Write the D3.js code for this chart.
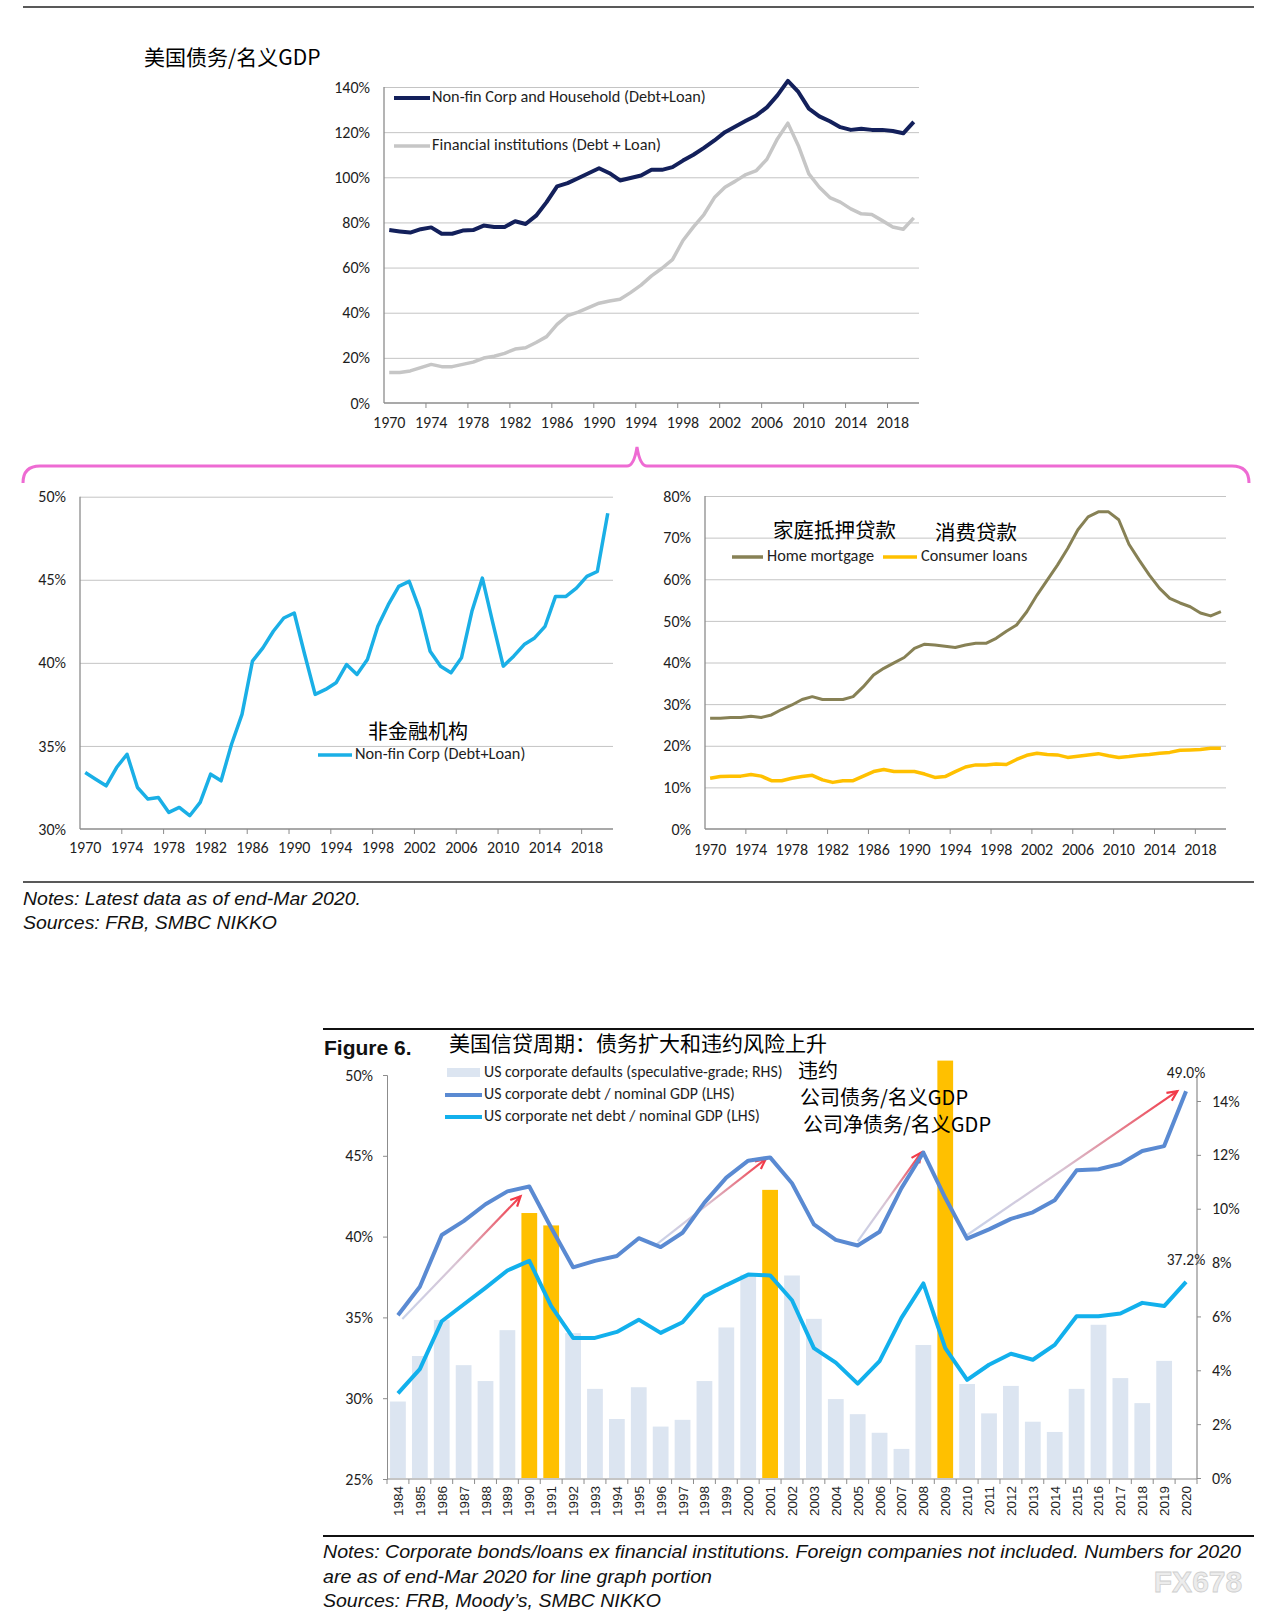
<!DOCTYPE html>
<html>
<head>
<meta charset="utf-8">
<script src="https://cdn.jsdelivr.net/npm/d3@7"></script>
<style>
  body { margin: 0; background: #fff; }
  svg { display: block; }
  .lat { font-family: Carlito, Lato, "Noto Sans", sans-serif; fill: #1e1e1e; }
  .cjk { font-family: "Noto Sans CJK SC", sans-serif; fill: #000; }
  .note { font-family: "Liberation Sans", Arial, sans-serif; font-style: italic; fill: #111; }
</style>
</head>
<body>
<div id="chart"></div>
<script>
// ---- Data: debt / nominal GDP panels (annual, 1970-2020) ----
var years = d3.range(1970, 2021);
var nonFinHousehold = [76.6, 76.0, 75.5, 77.0, 77.8, 75.0, 75.0, 76.4, 76.6, 78.6,
  78.0, 78.0, 80.5, 79.3, 83.0, 89.0, 96.0, 97.4, 99.6, 101.8,
  104.0, 101.8, 98.6, 99.7, 100.8, 103.3, 103.3, 104.5, 107.4, 110.0,
  113.0, 116.3, 120.0, 122.5, 125.0, 127.4, 131.0, 136.3, 142.7, 137.8,
  130.4, 127.0, 124.8, 122.2, 121.0, 121.5, 121.0, 121.0, 120.5, 119.5, 124.5];
var financialInst = [13.5, 13.5, 14.2, 15.7, 17.1, 16.1, 16.1, 17.1, 18.1, 19.9,
  20.7, 22.0, 23.9, 24.5, 26.8, 29.4, 34.8, 38.7, 40.3, 42.3,
  44.2, 45.2, 46.0, 48.9, 52.2, 56.3, 59.7, 63.5, 72.0, 78.0,
  83.5, 91.0, 95.6, 98.3, 101.2, 103.0, 108.0, 117.0, 124.0, 114.0,
  101.5, 95.6, 91.0, 89.0, 86.0, 83.8, 83.5, 80.8, 78.0, 77.0, 82.0];
var nonFinCorp = [33.4, 33.0, 32.6, 33.7, 34.5, 32.5, 31.8, 31.9, 31.0, 31.3,
  30.8, 31.6, 33.3, 32.9, 35.1, 36.9, 40.1, 40.9, 41.9, 42.7,
  43.0, 40.5, 38.1, 38.4, 38.8, 39.9, 39.3, 40.2, 42.2, 43.5,
  44.6, 44.9, 43.2, 40.7, 39.8, 39.4, 40.3, 43.1, 45.1, 42.4,
  39.8, 40.4, 41.1, 41.5, 42.2, 44.0, 44.0, 44.5, 45.2, 45.5, 49.0];
var homeMortgage = [26.6, 26.6, 26.8, 26.8, 27.1, 26.8, 27.4, 28.7, 29.8, 31.1,
  31.8, 31.1, 31.1, 31.1, 31.8, 34.2, 37.0, 38.6, 39.9, 41.2,
  43.4, 44.4, 44.2, 43.9, 43.6, 44.2, 44.6, 44.6, 45.8, 47.5,
  49.0, 52.2, 56.2, 59.8, 63.4, 67.4, 71.9, 75.0, 76.2, 76.2,
  74.3, 68.4, 64.6, 61.0, 57.8, 55.4, 54.3, 53.4, 51.9, 51.2, 52.2];
var consumerLoans = [12.2, 12.6, 12.7, 12.7, 13.1, 12.7, 11.6, 11.6, 12.2, 12.6,
  12.9, 11.8, 11.2, 11.6, 11.6, 12.7, 13.8, 14.3, 13.8, 13.8,
  13.8, 13.2, 12.4, 12.6, 13.8, 14.9, 15.4, 15.4, 15.6, 15.5,
  16.7, 17.7, 18.2, 17.9, 17.8, 17.2, 17.5, 17.8, 18.1, 17.6,
  17.2, 17.4, 17.7, 17.9, 18.2, 18.4, 18.9, 19.0, 19.1, 19.4, 19.4];

// ---- Data: Figure 6 (1984-2020) ----
var figYears = d3.range(1984, 2021);
var defaultRate = [2.84, 4.53, 5.87, 4.19, 3.6, 5.49, 9.84, 9.38, 5.38, 3.31,
  2.19, 3.37, 1.91, 2.16, 3.6, 5.59, 7.55, 10.7, 7.52, 5.91,
  2.93, 2.37, 1.68, 1.08, 4.94, 15.5, 3.49, 2.4, 3.42, 2.09,
  1.71, 3.31, 5.69, 3.71, 2.78, 4.35, null];
var corpDebt = [35.13, 36.9, 40.1, 40.96, 42.0, 42.8, 43.1, 40.55, 38.1, 38.5,
  38.8, 39.9, 39.35, 40.24, 42.1, 43.65, 44.7, 44.9, 43.3, 40.76,
  39.8, 39.45, 40.3, 43.0, 45.2, 42.4, 39.87, 40.45, 41.1, 41.5,
  42.25, 44.1, 44.17, 44.5, 45.3, 45.6, 49.0];
var corpNetDebt = [30.3, 31.8, 34.76, 35.8, 36.83, 37.9, 38.5, 35.7, 33.73, 33.73,
  34.1, 34.86, 34.04, 34.7, 36.3, 37.0, 37.65, 37.6, 36.06, 33.1,
  32.2, 30.9, 32.3, 34.97, 37.1, 33.1, 31.14, 32.07, 32.75, 32.38,
  33.3, 35.07, 35.07, 35.24, 35.9, 35.7, 37.2];
var highlightYears = [1990, 1991, 2001, 2009];
// Arrow annotations: [fromYear, fromValue, toYear, toValue] on the LHS scale
var trendArrows = [[1984.2, 34.9, 1989.6, 42.5], [1995.8, 39.5, 2000.8, 44.8],
  [2005.0, 39.7, 2007.9, 45.2], [2010.0, 40.1, 2019.6, 49.0]];

var W = 1280, H = 1621;
var tickFont = 16, legendFont = 16.3;
var svg = d3.select("#chart").append("svg")
  .attr("width", W).attr("height", H);
svg.append("rect").attr("width", W).attr("height", H).attr("fill", "#fff");
var defs = svg.append("defs");

// Excel-style line panel with band x axis and gridlines
function linePanel(cfg) {
  var g = svg.append("g");
  var x = d3.scaleBand().domain(years).range([cfg.x0, cfg.x1]);
  var y = d3.scaleLinear().domain(cfg.domain).range([cfg.yb, cfg.yt]);
  var ticks = d3.range(cfg.domain[0], cfg.domain[1] + 0.001, cfg.step);

  // gridlines
  g.append("g")
    .attr("transform", `translate(${cfg.x0},0)`)
    .call(d3.axisLeft(y).tickValues(ticks.slice(1)).tickSize(-(cfg.x1 - cfg.x0)).tickFormat(""))
    .call(function(a) {
      a.select(".domain").remove();
      a.selectAll("line").attr("stroke", "#c4c4c4");
    });

  // y labels
  g.append("g")
    .attr("transform", `translate(${cfg.x0},0)`)
    .call(d3.axisLeft(y).tickValues(ticks).tickSize(0).tickPadding(14)
      .tickFormat(function(d) { return d + "%"; }))
    .call(function(a) {
      a.select(".domain").remove();
      a.selectAll("text").attr("font-size", tickFont).attr("fill", "#1e1e1e")
        .style("font-family", "Carlito, Lato, sans-serif");
    });

  // axes lines
  g.append("line").attr("x1", cfg.x0).attr("x2", cfg.x0)
    .attr("y1", cfg.yt).attr("y2", cfg.yb).attr("stroke", "#8c8c8c").attr("stroke-width", 1.3);
  g.append("line").attr("x1", cfg.x0).attr("x2", cfg.x1)
    .attr("y1", cfg.yb).attr("y2", cfg.yb).attr("stroke", "#8c8c8c").attr("stroke-width", 1.3);

  // x tick marks at every 4th category boundary
  var bounds = years.filter(function(d, i) { return i % 4 === 0 && i > 0; });
  g.selectAll(".xt").data(bounds).enter().append("line")
    .attr("x1", function(d) { return x(d); })
    .attr("x2", function(d) { return x(d); })
    .attr("y1", cfg.yb).attr("y2", cfg.yb + 5)
    .attr("stroke", "#8c8c8c");

  // x labels
  g.append("g")
    .attr("transform", `translate(0,${cfg.yb})`)
    .call(d3.axisBottom(x).tickValues(years.filter(function(d, i) { return i % 4 === 0 && d <= 2018; }))
      .tickSize(0).tickPadding(cfg.xpad))
    .call(function(a) {
      a.select(".domain").remove();
      a.selectAll("text").attr("font-size", tickFont).attr("fill", "#1e1e1e")
        .style("font-family", "Carlito, Lato, sans-serif");
    });

  // series
  cfg.series.forEach(function(s) {
    var line = d3.line()
      .x(function(d, i) { return x(years[i]) + x.bandwidth() / 2; })
      .y(function(d) { return y(d); });
    g.append("path").datum(s.values)
      .attr("d", line)
      .attr("fill", "none")
      .attr("stroke", s.color)
      .attr("stroke-width", s.width)
      .attr("stroke-linejoin", "round");
  });
  return g;
}

// ---- Top rule and title ----
svg.append("line").attr("x1", 23).attr("x2", 1254).attr("y1", 7).attr("y2", 7)
  .attr("stroke", "#222").attr("stroke-width", 1.5);
svg.append("text").attr("class", "cjk").attr("x", 144).attr("y", 59)
  .attr("dominant-baseline", "middle").attr("font-size", 21).text("美国债务/名义GDP");

// ---- Top panel ----
linePanel({
  x0: 384, x1: 919, yb: 403, yt: 87, domain: [0, 140], step: 20, xpad: 14,
  series: [
    { values: financialInst, color: "#c6c6c6", width: 3.5 },
    { values: nonFinHousehold, color: "#13205b", width: 4 }
  ]
});
svg.append("line").attr("x1", 394).attr("x2", 430).attr("y1", 98).attr("y2", 98)
  .attr("stroke", "#13205b").attr("stroke-width", 4);
svg.append("text").attr("class", "lat").attr("x", 432).attr("y", 98)
  .attr("dominant-baseline", "middle").attr("font-size", legendFont)
  .text("Non-fin Corp and Household (Debt+Loan)");
svg.append("line").attr("x1", 394).attr("x2", 430).attr("y1", 146).attr("y2", 146)
  .attr("stroke", "#c6c6c6").attr("stroke-width", 3.5);
svg.append("text").attr("class", "lat").attr("x", 432).attr("y", 146)
  .attr("dominant-baseline", "middle").attr("font-size", legendFont)
  .text("Financial institutions (Debt + Loan)");

// ---- Pink bracket ----
svg.append("path")
  .attr("d", "M23,483 Q23,466 40,466 L627,466 Q634,466 637,447 Q640,466 647,466 L1232,466 Q1249,466 1249,483")
  .attr("fill", "none").attr("stroke", "#ee6bd3").attr("stroke-width", 3);

// ---- Bottom-left panel ----
linePanel({
  x0: 80, x1: 613, yb: 829, yt: 496.7, domain: [30, 50], step: 5, xpad: 13,
  series: [{ values: nonFinCorp, color: "#1aafe6", width: 3.5 }]
});
svg.append("text").attr("class", "cjk").attr("x", 368).attr("y", 734)
  .attr("dominant-baseline", "middle").attr("font-size", 20).text("非金融机构");
svg.append("line").attr("x1", 318).attr("x2", 352).attr("y1", 755).attr("y2", 755)
  .attr("stroke", "#1aafe6").attr("stroke-width", 3.5);
svg.append("text").attr("class", "lat").attr("x", 355).attr("y", 755)
  .attr("dominant-baseline", "middle").attr("font-size", legendFont).text("Non-fin Corp (Debt+Loan)");

// ---- Bottom-right panel ----
linePanel({
  x0: 705, x1: 1226, yb: 829, yt: 496, domain: [0, 80], step: 10, xpad: 15,
  series: [
    { values: homeMortgage, color: "#878155", width: 3 },
    { values: consumerLoans, color: "#ffc000", width: 3.5 }
  ]
});
svg.append("text").attr("class", "cjk").attr("x", 773).attr("y", 532)
  .attr("dominant-baseline", "middle").attr("font-size", 20.5).text("家庭抵押贷款");
svg.append("text").attr("class", "cjk").attr("x", 935).attr("y", 534)
  .attr("dominant-baseline", "middle").attr("font-size", 20.5).text("消费贷款");
svg.append("line").attr("x1", 732).attr("x2", 763).attr("y1", 557).attr("y2", 557)
  .attr("stroke", "#878155").attr("stroke-width", 3.5);
svg.append("text").attr("class", "lat").attr("x", 767).attr("y", 557)
  .attr("dominant-baseline", "middle").attr("font-size", legendFont).text("Home mortgage");
svg.append("line").attr("x1", 883).attr("x2", 917).attr("y1", 557).attr("y2", 557)
  .attr("stroke", "#ffc000").attr("stroke-width", 3.5);
svg.append("text").attr("class", "lat").attr("x", 921).attr("y", 557)
  .attr("dominant-baseline", "middle").attr("font-size", legendFont).text("Consumer loans");

// ---- Notes (upper) ----
svg.append("line").attr("x1", 23).attr("x2", 1254).attr("y1", 882).attr("y2", 882)
  .attr("stroke", "#222").attr("stroke-width", 1.5);
svg.append("text").attr("class", "note").attr("x", 23).attr("y", 905)
  .attr("font-size", 19).attr("textLength", 338).attr("lengthAdjust", "spacingAndGlyphs")
  .text("Notes: Latest data as of end-Mar 2020.");
svg.append("text").attr("class", "note").attr("x", 23).attr("y", 929)
  .attr("font-size", 19).attr("textLength", 254).attr("lengthAdjust", "spacingAndGlyphs")
  .text("Sources: FRB, SMBC NIKKO");

// ---- Figure 6 ----
svg.append("line").attr("x1", 323).attr("x2", 1254).attr("y1", 1029).attr("y2", 1029)
  .attr("stroke", "#111").attr("stroke-width", 2);
svg.append("text").attr("x", 324).attr("y", 1055)
  .style("font-family", "'Liberation Sans', Arial, sans-serif").attr("font-weight", "bold")
  .attr("font-size", 21).attr("fill", "#111").text("Figure 6.");
svg.append("text").attr("class", "cjk").attr("x", 449).attr("y", 1045)
  .attr("dominant-baseline", "middle").attr("font-size", 21)
  .text("美国信贷周期：债务扩大和违约风险上升");

var fx0 = 387, fx1 = 1197, fyb = 1479, fyt = 1075;
var fx = d3.scaleBand().domain(figYears).range([fx0, fx1]);
var fxLin = d3.scaleLinear().domain([1983.5, 2020.5]).range([fx0, fx1]);
var fyL = d3.scaleLinear().domain([25, 50]).range([fyb, fyt]);
var fyR = d3.scaleLinear().domain([0, 14]).range([1478, 1101]);
var fig = svg.append("g");

// default-rate bars
var barW = fx.bandwidth() * 0.72;
fig.selectAll(".bar").data(figYears.filter(function(d, i) { return defaultRate[i] != null; }))
  .enter().append("rect")
  .attr("x", function(d) { return fx(d) + (fx.bandwidth() - barW) / 2; })
  .attr("y", function(d) { return fyR(defaultRate[figYears.indexOf(d)]); })
  .attr("width", barW)
  .attr("height", function(d) { return fyR(0) - fyR(defaultRate[figYears.indexOf(d)]); })
  .attr("fill", function(d) { return highlightYears.indexOf(d) >= 0 ? "#ffc000" : "#dce5f1"; });

// trend arrows (fade from pale blue to red)
trendArrows.forEach(function(a, i) {
  var x1 = fxLin(a[0]), y1 = fyL(a[1]), x2 = fxLin(a[2]), y2 = fyL(a[3]);
  var gid = "arrowGrad" + i;
  var grad = defs.append("linearGradient").attr("id", gid)
    .attr("gradientUnits", "userSpaceOnUse")
    .attr("x1", x1).attr("y1", y1).attr("x2", x2).attr("y2", y2);
  grad.append("stop").attr("offset", "0%").attr("stop-color", "#c9d3ea");
  grad.append("stop").attr("offset", "45%").attr("stop-color", "#d8c4d4");
  grad.append("stop").attr("offset", "100%").attr("stop-color", "#f23a48");
  fig.append("line").attr("x1", x1).attr("y1", y1).attr("x2", x2).attr("y2", y2)
    .attr("stroke", "url(#" + gid + ")").attr("stroke-width", 2.2);
  var ang = Math.atan2(y2 - y1, x2 - x1);
  var hl = 11, sp = 0.45;
  fig.append("path")
    .attr("d", "M" + (x2 - hl * Math.cos(ang - sp)) + "," + (y2 - hl * Math.sin(ang - sp)) +
      "L" + x2 + "," + y2 +
      "L" + (x2 - hl * Math.cos(ang + sp)) + "," + (y2 - hl * Math.sin(ang + sp)))
    .attr("fill", "none").attr("stroke", "#f23a48").attr("stroke-width", 2.2)
    .attr("stroke-linejoin", "miter");
});

// debt lines
var figLine = d3.line()
  .x(function(d, i) { return fx(figYears[i]) + fx.bandwidth() / 2; })
  .y(function(d) { return fyL(d); });
fig.append("path").datum(corpDebt).attr("d", figLine)
  .attr("fill", "none").attr("stroke", "#5a8ad2").attr("stroke-width", 4)
  .attr("stroke-linejoin", "round");
fig.append("path").datum(corpNetDebt).attr("d", figLine)
  .attr("fill", "none").attr("stroke", "#12b0ec").attr("stroke-width", 4)
  .attr("stroke-linejoin", "round");

// axes
fig.append("g")
  .attr("transform", `translate(${fx0},0)`)
  .call(d3.axisLeft(fyL).tickValues(d3.range(25, 51, 5)).tickSize(4).tickPadding(10)
    .tickFormat(function(d) { return d + "%"; }))
  .call(function(a) {
    a.select(".domain").attr("stroke", "#8c8c8c");
    a.selectAll("line").attr("stroke", "#8c8c8c");
    a.selectAll("text").attr("font-size", tickFont).attr("fill", "#1e1e1e")
      .style("font-family", "Carlito, Lato, sans-serif");
  });
fig.append("g")
  .attr("transform", `translate(${fx1},0)`)
  .call(d3.axisRight(fyR).tickValues(d3.range(0, 15, 2)).tickSize(4).tickPadding(11)
    .tickFormat(function(d) { return d + "%"; }))
  .call(function(a) {
    a.select(".domain").remove();
    a.selectAll("line").attr("stroke", "#8c8c8c");
    a.selectAll("text").attr("font-size", tickFont).attr("fill", "#1e1e1e")
      .style("font-family", "Carlito, Lato, sans-serif");
  });
fig.append("line").attr("x1", fx1).attr("x2", fx1).attr("y1", fyt).attr("y2", fyb)
  .attr("stroke", "#8c8c8c").attr("stroke-width", 1.2);
fig.append("line").attr("x1", fx0).attr("x2", fx1).attr("y1", fyb).attr("y2", fyb)
  .attr("stroke", "#8c8c8c").attr("stroke-width", 1.2);
fig.selectAll(".fxt").data(figYears.concat([2021])).enter().append("line")
  .attr("x1", function(d) { return d === 2021 ? fx1 : fx(d); })
  .attr("x2", function(d) { return d === 2021 ? fx1 : fx(d); })
  .attr("y1", fyb).attr("y2", fyb + 5).attr("stroke", "#8c8c8c");
fig.selectAll(".fxl").data(figYears).enter().append("text")
  .attr("transform", function(d) {
    return `translate(${fx(d) + fx.bandwidth() / 2 + 5},1486) rotate(-90)`;
  })
  .attr("text-anchor", "end")
  .style("font-family", "'Liberation Sans', Arial, sans-serif")
  .attr("font-size", 13.5).attr("fill", "#1e1e1e")
  .text(function(d) { return d; });

// end-value labels
fig.append("text").attr("class", "lat").attr("x", 1186).attr("y", 1074)
  .attr("text-anchor", "middle").attr("dominant-baseline", "middle").attr("font-size", 15.5)
  .text(d3.format(".1f")(corpDebt[corpDebt.length - 1]) + "%");
fig.append("text").attr("class", "lat").attr("x", 1186).attr("y", 1261)
  .attr("text-anchor", "middle").attr("dominant-baseline", "middle").attr("font-size", 15.5)
  .text(d3.format(".1f")(corpNetDebt[corpNetDebt.length - 1]) + "%");

// legend
fig.append("rect").attr("x", 447).attr("y", 1068).attr("width", 33).attr("height", 9)
  .attr("fill", "#dce5f1");
fig.append("text").attr("class", "lat").attr("x", 484).attr("y", 1073)
  .attr("dominant-baseline", "middle").attr("font-size", 15.8)
  .text("US corporate defaults (speculative-grade; RHS)");
fig.append("line").attr("x1", 445).attr("x2", 482).attr("y1", 1095).attr("y2", 1095)
  .attr("stroke", "#5a8ad2").attr("stroke-width", 4);
fig.append("text").attr("class", "lat").attr("x", 484).attr("y", 1095)
  .attr("dominant-baseline", "middle").attr("font-size", 15.8)
  .text("US corporate debt / nominal GDP (LHS)");
fig.append("line").attr("x1", 445).attr("x2", 482).attr("y1", 1117).attr("y2", 1117)
  .attr("stroke", "#12b0ec").attr("stroke-width", 4);
fig.append("text").attr("class", "lat").attr("x", 484).attr("y", 1117)
  .attr("dominant-baseline", "middle").attr("font-size", 15.8)
  .text("US corporate net debt / nominal GDP (LHS)");

// Chinese annotations
fig.append("text").attr("class", "cjk").attr("x", 798).attr("y", 1073)
  .attr("dominant-baseline", "middle").attr("font-size", 20).text("违约");
fig.append("text").attr("class", "cjk").attr("x", 800).attr("y", 1100)
  .attr("dominant-baseline", "middle").attr("font-size", 20).text("公司债务/名义GDP");
fig.append("text").attr("class", "cjk").attr("x", 803).attr("y", 1127)
  .attr("dominant-baseline", "middle").attr("font-size", 20).text("公司净债务/名义GDP");

// ---- Notes (lower) ----
svg.append("line").attr("x1", 323).attr("x2", 1254).attr("y1", 1536).attr("y2", 1536)
  .attr("stroke", "#111").attr("stroke-width", 2);
svg.append("text").attr("class", "note").attr("x", 323).attr("y", 1558)
  .attr("font-size", 19).attr("textLength", 918).attr("lengthAdjust", "spacingAndGlyphs")
  .text("Notes: Corporate bonds/loans ex financial institutions. Foreign companies not included. Numbers for 2020");
svg.append("text").attr("class", "note").attr("x", 323).attr("y", 1583)
  .attr("font-size", 19).attr("textLength", 389).attr("lengthAdjust", "spacingAndGlyphs")
  .text("are as of end-Mar 2020 for line graph portion");
svg.append("text").attr("class", "note").attr("x", 323).attr("y", 1607)
  .attr("font-size", 19).attr("textLength", 338).attr("lengthAdjust", "spacingAndGlyphs")
  .text("Sources: FRB, Moody\u2019s, SMBC NIKKO");

// watermark
svg.append("text").attr("x", 1198).attr("y", 1592).attr("text-anchor", "middle")
  .style("font-family", "'Liberation Sans', Arial, sans-serif").attr("font-weight", "bold")
  .attr("font-size", 30).attr("fill", "#ececec").attr("stroke", "#cfcfcf").attr("stroke-width", 0.8)
  .text("FX678");
</script>
</body>
</html>
